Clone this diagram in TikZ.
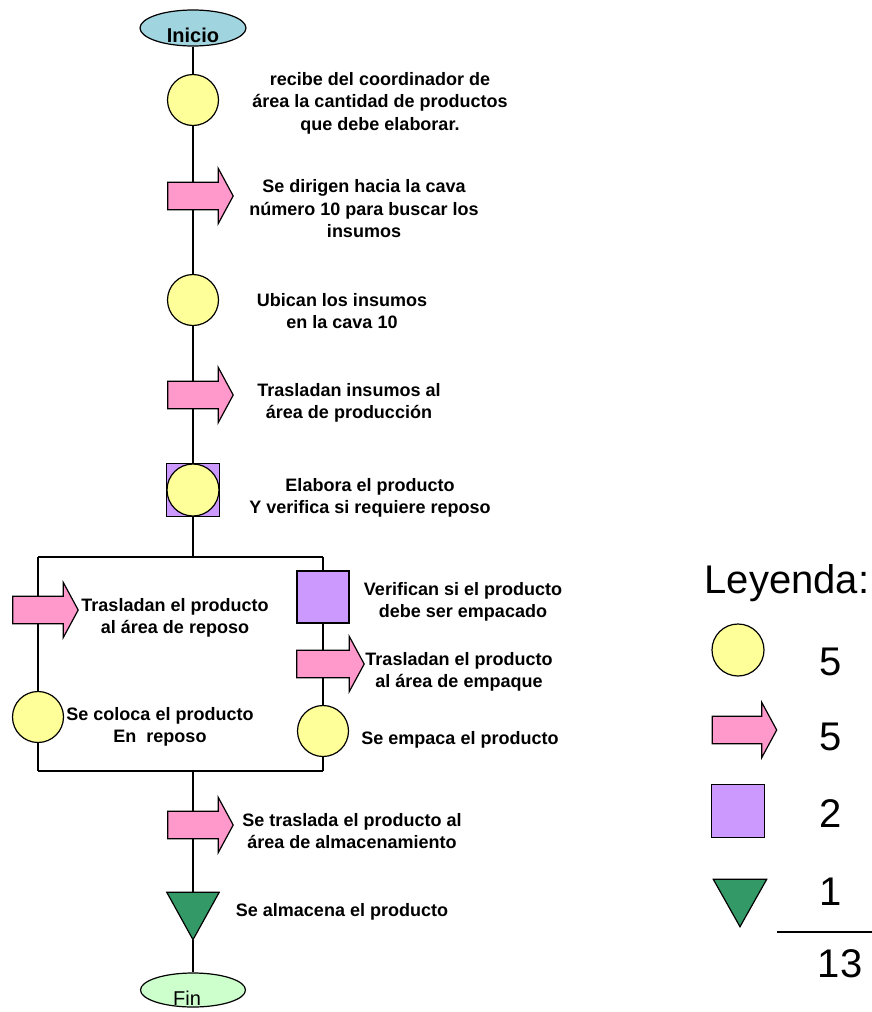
\documentclass[tikz,border=0pt]{standalone}
\usepackage{fontspec}
\setmainfont{Liberation Sans}
\usetikzlibrary{shapes.geometric}
\definecolor{cyel}{RGB}{255,255,153}
\definecolor{cpink}{RGB}{255,153,204}
\definecolor{cpurp}{RGB}{204,153,255}
\definecolor{cgreen}{RGB}{51,153,102}
\definecolor{cblue}{RGB}{160,212,222}
\definecolor{cmint}{RGB}{204,255,204}
\newcommand\arrowsh[1]{\draw[shapeline,fill=cpink] (#1.north west) -- (#1.north east) -- ([yshift=14pt]#1.north east) -- ([xshift=15pt]#1.east) -- ([yshift=-14pt]#1.south east) -- (#1.south east) -- (#1.south west) -- cycle;}
\newcommand\trish[1]{\draw[shapeline,fill=cgreen] (#1.north west) -- (#1.north east) -- (#1.south) -- cycle;}
\begin{document}
\begin{tikzpicture}[x=1pt,y=-1pt,
  shapeline/.style={draw=black,line width=1.2pt,line join=miter},
  conn/.style={draw=black,line width=1.2pt},
  opcirc/.style={circle,shapeline,fill=cyel,minimum size=51pt,inner sep=0pt},
  abody/.style={rectangle,minimum width=50pt,minimum height=27pt,inner sep=0pt},
  insp/.style={rectangle,shapeline,fill=cpurp,minimum size=53pt,inner sep=0pt},
  trinode/.style={rectangle,minimum width=52pt,minimum height=47pt,inner sep=0pt},
  txt/.style={align=center,font=\bfseries\fontsize{18}{22.5}\selectfont,inner sep=0pt},
  leg/.style={anchor=base,font=\fontsize{40}{48}\selectfont,inner sep=0pt}]
\useasboundingbox (0,0) rectangle (872,1012);
% main column
\node[ellipse,shapeline,fill=cblue,minimum width=106pt,minimum height=36pt,inner sep=0pt,
  label={[inner sep=0pt,yshift=-7pt,font=\bfseries\fontsize{20}{22}\selectfont]center:Inicio}] (start) at (193,28) {};
\node[opcirc] (c1) at (193,100) {};
\node[abody] (a1) at (193,196) {}; \arrowsh{a1}
\node[opcirc] (c2) at (193,300) {};
\node[abody] (a2) at (193,395) {}; \arrowsh{a2}
\node[insp] (sq) at (193,490) {};
\node[opcirc,minimum size=52pt] (c3) at (193,490) {};
\coordinate (bt) at (193,557);
\coordinate (bl) at (38,557);
\coordinate (br) at (323,557);
\coordinate (bbl) at (38,771);
\coordinate (bbr) at (323,771);
\coordinate (bb) at (193,771);
\node[abody] (a3) at (38,610) {}; \arrowsh{a3}
\node[opcirc] (c4) at (38,717) {};
\node[insp,minimum size=52pt] (sq2) at (323,597) {};
\node[abody,minimum width=52pt] (a4) at (323,664) {}; \arrowsh{a4}
\node[opcirc] (c5) at (323,731) {};
\node[abody] (a5) at (193,825) {}; \arrowsh{a5}
\node[trinode] (tri) at (193,916) {}; \trish{tri}
\node[ellipse,shapeline,fill=cmint,minimum width=105pt,minimum height=34pt,inner sep=0pt,
  label={[inner sep=0pt,xshift=-6pt,yshift=-8pt,font=\fontsize{20}{22}\selectfont]center:Fin}] (fin) at (193,990) {};
% connectors
\draw[conn] (start) -- (c1);
\draw[conn] (c1) -- (a1);
\draw[conn] (a1) -- (c2);
\draw[conn] (c2) -- (a2);
\draw[conn] (a2) -- (sq);
\draw[conn] (sq) -- (bt);
\draw[conn] (bl) -- (br);
\draw[conn] (bl) -- (a3);
\draw[conn] (a3) -- (c4);
\draw[conn] (c4) -- (bbl);
\draw[conn] (br) -- (sq2);
\draw[conn] (sq2) -- (a4);
\draw[conn] (a4) -- (c5);
\draw[conn] (c5) -- (bbr);
\draw[conn] (bbl) -- (bbr);
\draw[conn] (bb) -- (a5);
\draw[conn] (a5) -- (tri);
\draw[conn] (tri) -- (fin);
% texts
\node[txt] (t1) at (380,103) {recibe del coordinador de\\área la cantidad de productos\\que debe elaborar.};
\node[txt] (t2) at (364,209) {Se dirigen hacia la cava\\número 10 para buscar los\\insumos};
\node[txt] (t3) at (342,311) {Ubican los insumos\\en la cava 10};
\node[txt] (t4) at (349,403) {Trasladan insumos al\\área de producción};
\node[txt] (t5) at (370,498) {Elabora el producto\\Y verifica si requiere reposo};
\node[txt] (t6) at (175,618) {Trasladan el producto\\al área de reposo};
\node[txt] (t7) at (160,727) {Se coloca el producto\\En\ \ reposo};
\node[txt] (t8) at (463,602) {Verifican si el producto\\debe ser empacado};
\node[txt] (t9) at (459,672) {Trasladan el producto\\al área de empaque};
\node[txt] (t10) at (460,740) {Se empaca el producto};
\node[txt] (t11) at (352,831) {Se traslada el producto al\\área de almacenamiento};
\node[txt] (t12) at (342,912) {Se almacena el producto};
% legend
\node[leg] (ley) at (787,593) {Leyenda:};
\node[opcirc,minimum size=52pt] (lc) at (738,650) {};
\node[abody,minimum width=49pt] (la) at (737,730) {}; \arrowsh{la}
\node[insp] (lsq) at (738,811) {};
\node[trinode,minimum width=53pt] (ltri) at (740,903) {}; \trish{ltri}
\node[leg] (n1) at (831,675) {5};
\node[leg] (n2) at (831,750) {5};
\node[leg] (n3) at (831,827) {2};
\node[leg] (n4) at (831,905) {1};
\coordinate (r1) at (777,932);
\coordinate (r2) at (872,932);
\draw[conn] (r1) -- (r2);
\node[leg] (n5) at (840,977) {13};
\end{tikzpicture}
\end{document}
